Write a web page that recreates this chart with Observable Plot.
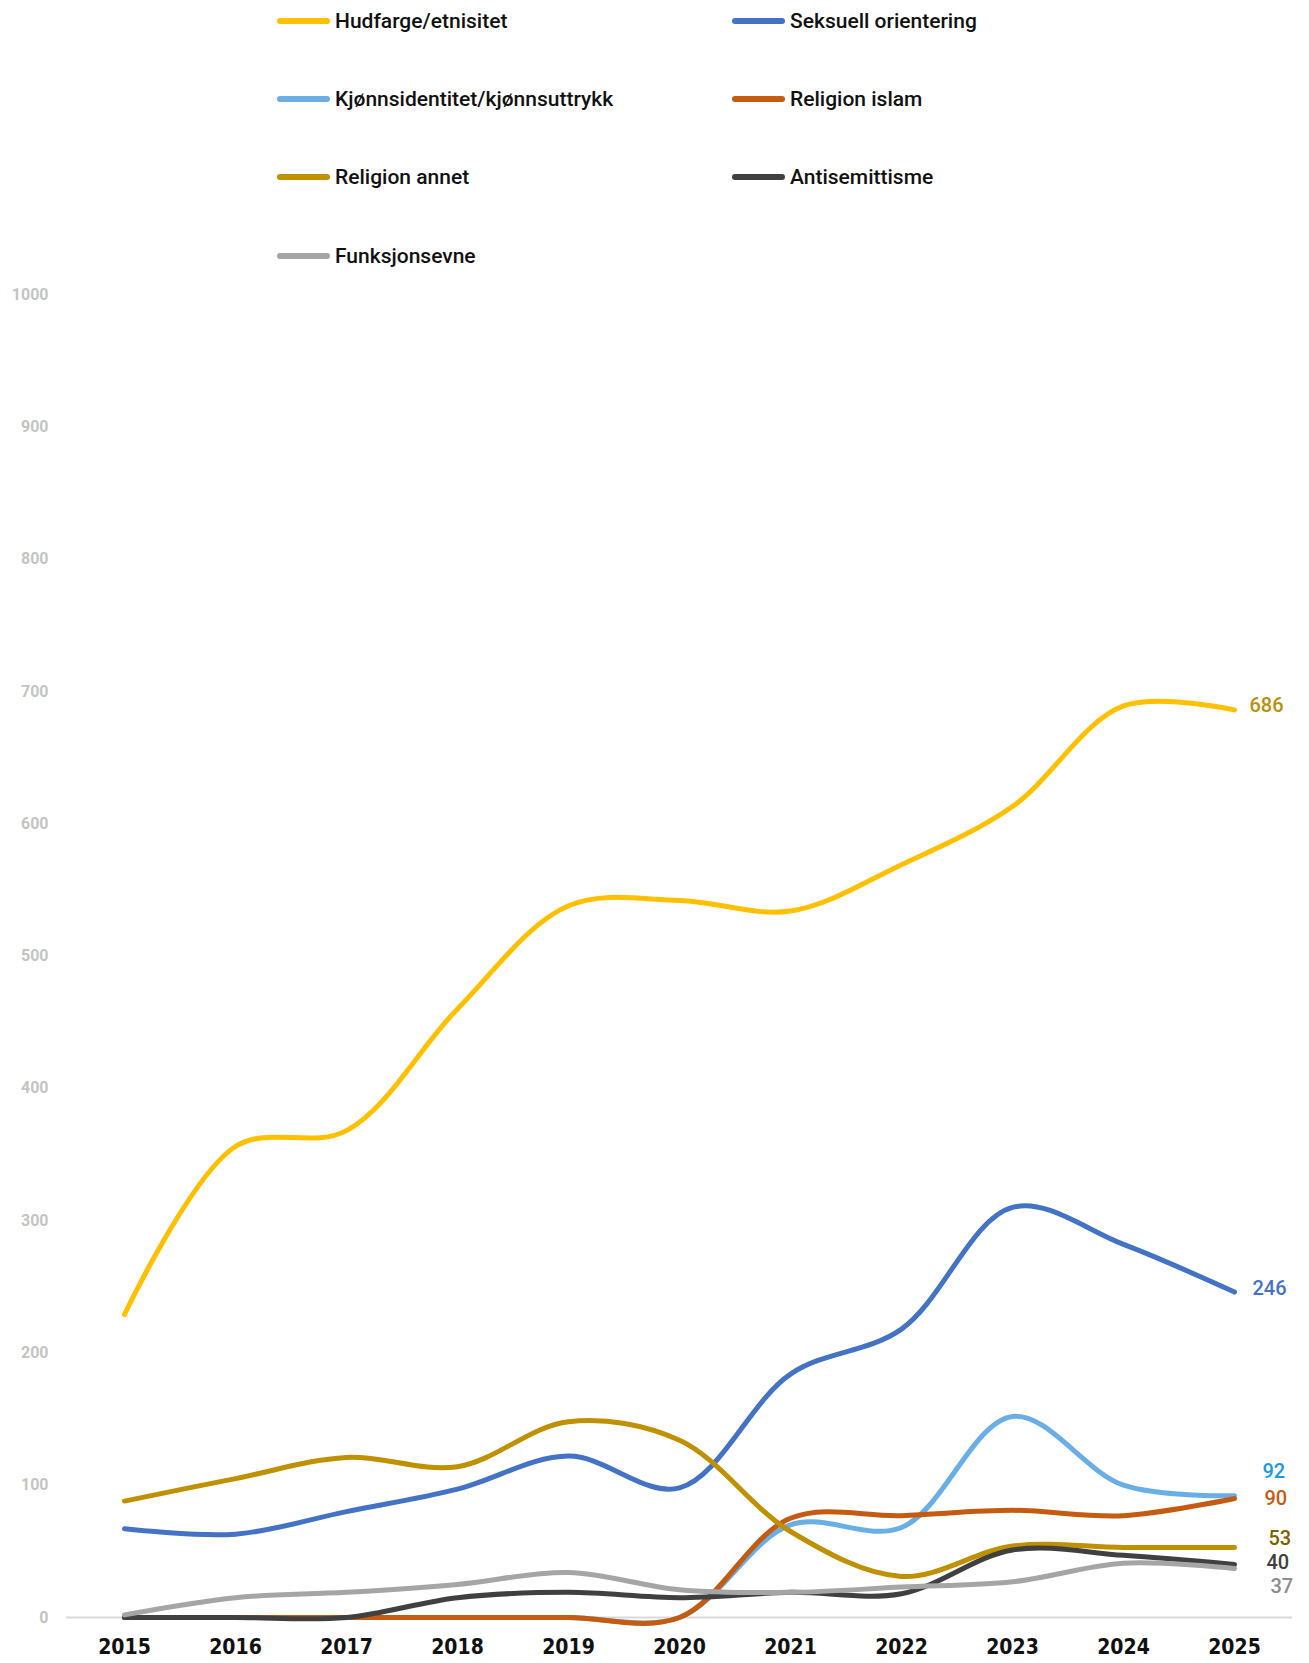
<!DOCTYPE html>
<html>
<head>
<meta charset="utf-8">
<script src="https://cdn.jsdelivr.net/npm/d3@7"></script>
<script src="https://cdn.jsdelivr.net/npm/@observablehq/plot@0.6"></script>
<style>
  html, body { margin: 0; padding: 0; background: #fff; }
  #wrap { position: relative; width: 1309px; height: 1663px; }
  #legend { position: absolute; left: 0; top: 0; width: 1309px; height: 280px; font-family: Roboto, "Liberation Sans", sans-serif; font-weight: 500; font-size: 21px; color: #111; }
  .item { position: absolute; display: flex; align-items: center; }
  .sw { width: 53px; height: 6px; border-radius: 3px; margin-right: 5px; }
  svg { position: absolute; left: 0; top: 0; }
  .xax text { font-family: "DejaVu Sans Condensed", "DejaVu Sans", sans-serif; font-stretch: condensed; }
</style>
</head>
<body>
<div id="wrap"><div id="legend"></div></div>
<script>
const years = ["2015","2016","2017","2018","2019","2020","2021","2022","2023","2024","2025"];
const seriesNames = ["Hudfarge/etnisitet","Seksuell orientering","Kjønnsidentitet/kjønnsuttrykk","Religion islam","Religion annet","Antisemittisme","Funksjonsevne"];
const hudfarge      = [229, 356, 368, 460, 538, 542, 534, 569, 613, 689, 686];
const seksuell      = [67, 63, 80, 97, 122, 98, 184, 218, 310, 282, 246];
const kjonnsid      = [0, 0, 0, 0, 0, 0, 70, 68, 152, 100, 92];
const islam         = [0, 0, 0, 0, 0, 0, 75, 77, 81, 77, 90];
const annet         = [88, 105, 121, 114, 148, 134, 65, 31, 54, 53, 53];
const antisem       = [0, 0, 0, 15, 19, 15, 19, 18, 51, 47, 40];
const funksjon      = [2, 15, 19, 25, 34, 21, 19, 23, 27, 41, 37];
const yTicks = [0,100,200,300,400,500,600,700,800,900,1000];

const lineColors  = ["#ffc000","#4472c4","#6aaee6","#c55a11","#bf9000","#404040","#a5a5a5"];
const labelColors = ["#b8900c","#4472c4","#1a9be6","#c55a11","#7f6000","#404040","#8c8c8c"];
const labelDx     = [15, 18, 28, 30, 34, 32, 36];
const labelDy     = [-4, -3, -24, 0, -9, -2, 18];

const values = [hudfarge, seksuell, kjonnsid, islam, annet, antisem, funksjon];
const data = [];
seriesNames.forEach((s, i) => years.forEach((y, j) => data.push({series: s, year: y, value: values[i][j], order: i})));
const last = seriesNames.map((s, i) => ({series: s, year: years[years.length-1], value: values[i][years.length-1], i}));

// legend
const legend = document.getElementById("legend");
const legPos = [[277,21],[732,21],[277,99],[732,99],[277,177],[732,177],[277,256]];
seriesNames.forEach((s, i) => {
  const d = document.createElement("div");
  d.className = "item";
  d.style.left = legPos[i][0] + "px";
  d.style.top = (legPos[i][1] - 14) + "px";
  d.style.height = "28px";
  d.innerHTML = `<span class="sw" style="background:${lineColors[i]}"></span><span>${s}</span>`;
  legend.appendChild(d);
});

const chart = Plot.plot({
  width: 1309,
  height: 1663,
  marginTop: 294,
  marginBottom: 46,
  marginLeft: 66,
  marginRight: 17,
  style: {background: "transparent", overflow: "visible"},
  x: {type: "point", domain: years, padding: 0.5, label: null},
  y: {domain: [0, 1000], label: null},
  marks: [
    Plot.ruleY([0], {stroke: "#d9d9d9", strokeWidth: 2}),
    Plot.axisY({ticks: yTicks, tickFormat: d3.format("d"), tickSize: 0, tickPadding: 18, fontSize: 16, fontWeight: "bold", fill: "#c4c4c4", fontFamily: "Roboto, sans-serif", label: null}),
    Plot.axisX({tickSize: 0, tickPadding: 22, fontSize: 21, fontWeight: "bold", fill: "#111", className: "xax", label: null}),
    ...seriesNames.map((s, i) => Plot.line(data.filter(d => d.series === s), {
      x: "year", y: "value", stroke: lineColors[i], strokeWidth: 5, curve: "catmull-rom", strokeLinecap: "round"
    })),
    ...last.map((d, i) => Plot.text([d], {
      x: "year", y: "value", text: d => String(d.value), dx: labelDx[i], dy: labelDy[i], textAnchor: "start",
      fill: labelColors[i], fontSize: 20, fontWeight: 500, fontFamily: "Roboto, sans-serif"
    }))
  ]
});
document.getElementById("wrap").appendChild(chart);
</script>
</body>
</html>
